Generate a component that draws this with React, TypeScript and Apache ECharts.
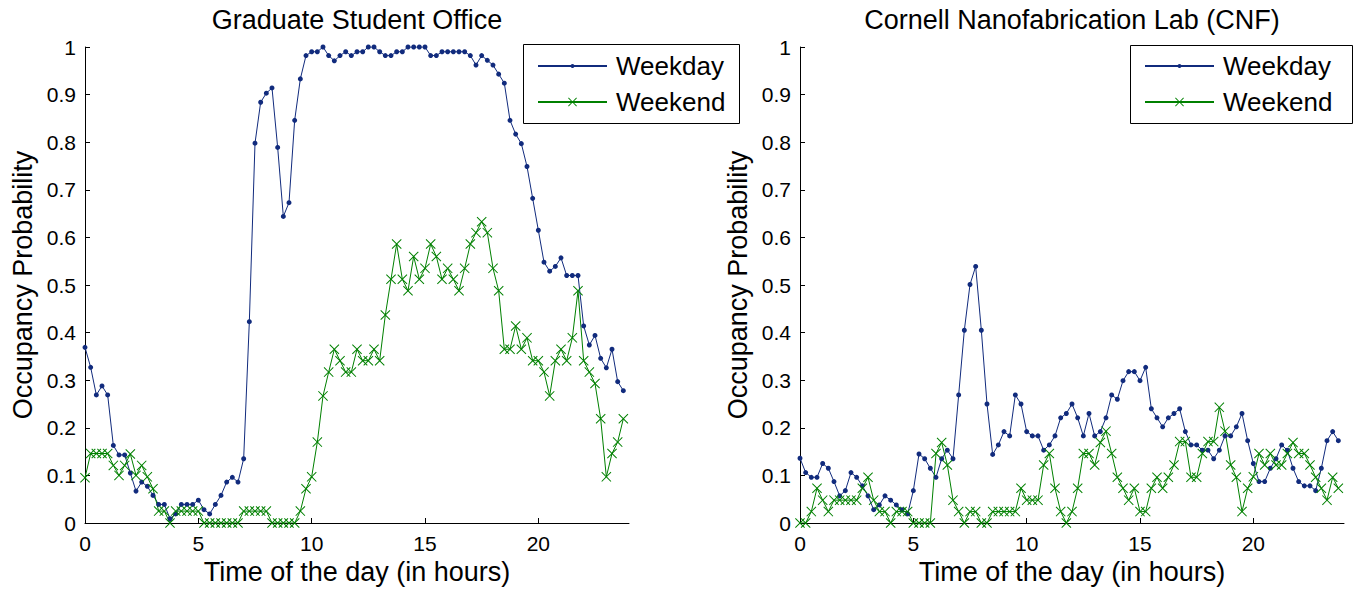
import React, { useEffect, useRef } from 'react';
import * as echarts from 'echarts';

// time of day sampled every 15 minutes (0 .. 23.75 h)
const hours: number[] = Array.from({ length: 96 }, (_, i) => i * 0.25);

const officeWeekday = [
  0.369, 0.327, 0.269, 0.288, 0.269, 0.163, 0.143, 0.143, 0.105, 0.067,
  0.086, 0.077, 0.058, 0.039, 0.039, 0.009, 0.019, 0.039, 0.039, 0.039,
  0.048, 0.028, 0.019, 0.039, 0.058, 0.086, 0.096, 0.086, 0.135, 0.423,
  0.798, 0.884, 0.903, 0.914, 0.789, 0.644, 0.673, 0.846, 0.933, 0.982,
  0.990, 0.990, 1.0, 0.982, 0.971, 0.982, 0.990, 0.982, 0.990, 0.990,
  1.0, 1.0, 0.990, 0.982, 0.982, 0.990, 0.990, 1.0, 1.0, 1.0,
  1.0, 0.982, 0.982, 0.990, 0.990, 0.990, 0.990, 0.990, 0.982, 0.962,
  0.982, 0.972, 0.962, 0.943, 0.924, 0.846, 0.817, 0.797, 0.749, 0.682,
  0.615, 0.548, 0.529, 0.539, 0.557, 0.520, 0.520, 0.520, 0.414, 0.374,
  0.394, 0.346, 0.326, 0.365, 0.297, 0.278,
];

const officeWeekend = [
  0.095, 0.146, 0.146, 0.146, 0.146, 0.121, 0.100, 0.121, 0.145, 0.100,
  0.121, 0.097, 0.072, 0.025, 0.025, 0.0, 0.025, 0.025, 0.025, 0.025,
  0.025, 0.0, 0.0, 0.0, 0.0, 0.0, 0.0, 0.0, 0.025, 0.025,
  0.025, 0.025, 0.025, 0.0, 0.0, 0.0, 0.0, 0.0, 0.025, 0.072,
  0.097, 0.170, 0.267, 0.317, 0.365, 0.341, 0.317, 0.317, 0.365, 0.341,
  0.341, 0.365, 0.341, 0.437, 0.512, 0.586, 0.512, 0.488, 0.560, 0.512,
  0.535, 0.586, 0.560, 0.512, 0.535, 0.512, 0.488, 0.535, 0.586, 0.610,
  0.633, 0.610, 0.535, 0.488, 0.365, 0.365, 0.414, 0.365, 0.389, 0.341,
  0.341, 0.317, 0.267, 0.341, 0.365, 0.341, 0.389, 0.488, 0.341, 0.317,
  0.293, 0.219, 0.097, 0.146, 0.170, 0.219,
];

const cnfWeekday = [
  0.136, 0.106, 0.096, 0.096, 0.125, 0.115, 0.087, 0.057, 0.068, 0.106,
  0.096, 0.078, 0.057, 0.028, 0.038, 0.057, 0.048, 0.038, 0.028, 0.019,
  0.068, 0.145, 0.135, 0.115, 0.096, 0.135, 0.153, 0.135, 0.269, 0.405,
  0.501, 0.539, 0.405, 0.250, 0.144, 0.164, 0.192, 0.183, 0.269, 0.250,
  0.192, 0.183, 0.183, 0.153, 0.164, 0.183, 0.221, 0.230, 0.250, 0.221,
  0.183, 0.230, 0.183, 0.192, 0.221, 0.269, 0.260, 0.299, 0.318, 0.318,
  0.299, 0.327, 0.240, 0.221, 0.202, 0.221, 0.230, 0.240, 0.192, 0.164,
  0.164, 0.153, 0.153, 0.135, 0.153, 0.183, 0.183, 0.202, 0.230, 0.173,
  0.125, 0.087, 0.087, 0.115, 0.135, 0.164, 0.153, 0.115, 0.087, 0.078,
  0.078, 0.068, 0.115, 0.173, 0.192, 0.173,
];

const cnfWeekend = [
  0.0, 0.0, 0.024, 0.073, 0.048, 0.024, 0.048, 0.048, 0.048, 0.048,
  0.048, 0.073, 0.096, 0.048, 0.024, 0.024, 0.0, 0.024, 0.024, 0.024,
  0.0, 0.0, 0.0, 0.0, 0.146, 0.169, 0.122, 0.048, 0.024, 0.0,
  0.024, 0.024, 0.0, 0.0, 0.024, 0.024, 0.024, 0.024, 0.024, 0.073,
  0.048, 0.048, 0.048, 0.122, 0.146, 0.073, 0.024, 0.0, 0.024, 0.073,
  0.146, 0.146, 0.122, 0.169, 0.193, 0.146, 0.096, 0.073, 0.048, 0.073,
  0.024, 0.024, 0.073, 0.096, 0.073, 0.096, 0.122, 0.171, 0.171, 0.096,
  0.096, 0.146, 0.171, 0.171, 0.243, 0.193, 0.122, 0.096, 0.024, 0.073,
  0.097, 0.146, 0.122, 0.146, 0.122, 0.122, 0.146, 0.169, 0.146, 0.146,
  0.122, 0.096, 0.073, 0.048, 0.096, 0.073,
];

const xTicks = [0, 5, 10, 15, 20];
const panelTitles = ['Graduate Student Office', 'Cornell Nanofabrication Lab (CNF)'];
const seriesNames = ['Weekday', 'Weekend'];
const xName = 'Time of the day (in hours)';
const yName = 'Occupancy Probability';

const BLUE = '#112b7d';
const GREEN = '#008000';
const FONT = "'Liberation Sans', Arial, Helvetica, sans-serif";
const X_SYMBOL =
  'path://M0,0.7L0.7,0L5,4.3L9.3,0L10,0.7L5.7,5L10,9.3L9.3,10L5,5.7L0.7,10L0,9.3L4.3,5Z';

function pairs(arr: number[]) {
  return hours.map((h, i) => [h, arr[i]]);
}

export default function App() {
  const ref = useRef<HTMLDivElement>(null);

  useEffect(() => {
    if (!ref.current) return;
    const chart = echarts.init(ref.current, undefined, { renderer: 'svg' });

    const grids = [
      { left: 85, top: 47, width: 544, height: 476 },
      { left: 800, top: 47, width: 544, height: 476 },
    ];

    const xAxis = [0, 1].map((i) => ({
      type: 'value',
      gridIndex: i,
      min: 0,
      max: 24,
      interval: 5,
      axisLine: { show: true, lineStyle: { color: '#000', width: 1 } },
      axisTick: { show: true, inside: true, length: 5, customValues: xTicks, lineStyle: { color: '#000' } },
      axisLabel: { customValues: xTicks, fontSize: 21, color: '#000', margin: 10, fontFamily: FONT },
      splitLine: { show: false },
      name: xName,
      nameLocation: 'middle',
      nameGap: 31,
      nameTextStyle: { fontSize: 27, color: '#000', fontFamily: FONT },
    }));

    const yAxis = [0, 1].map((i) => ({
      type: 'value',
      gridIndex: i,
      min: 0,
      max: 1,
      interval: 0.1,
      axisLine: { show: true, lineStyle: { color: '#000', width: 1 } },
      axisTick: { show: true, inside: true, length: 5, lineStyle: { color: '#000' } },
      axisLabel: { fontSize: 21, color: '#000', margin: 9, fontFamily: FONT },
      splitLine: { show: false },
      name: yName,
      nameLocation: 'middle',
      nameRotate: 90,
      nameGap: 49,
      nameTextStyle: { fontSize: 27, color: '#000', fontFamily: FONT },
    }));

    const panels = [
      [officeWeekday, officeWeekend],
      [cnfWeekday, cnfWeekend],
    ];

    const series: any[] = [];
    panels.forEach((p, i) => {
      series.push({
        type: 'line',
        name: seriesNames[0],
        xAxisIndex: i,
        yAxisIndex: i,
        data: pairs(p[0]),
        symbol: 'circle',
        symbolSize: 5,
        showSymbol: true,
        lineStyle: { color: BLUE, width: 1 },
        itemStyle: { color: BLUE },
      });
      series.push({
        type: 'line',
        name: seriesNames[1],
        xAxisIndex: i,
        yAxisIndex: i,
        data: pairs(p[1]),
        symbol: X_SYMBOL,
        symbolSize: 10,
        showSymbol: true,
        lineStyle: { color: GREEN, width: 1 },
        itemStyle: { color: GREEN },
      });
    });

    const legendText = { fontSize: 26, color: '#000', fontFamily: FONT, padding: [0, 0, 0, 4] };
    const legendCommon = {
      orient: 'vertical',
      itemWidth: 69,
      padding: 0,
      selectedMode: false,
      textStyle: legendText,
    };
    const legend = [
      { ...legendCommon, data: [seriesNames[0]], left: 537, top: 53, itemHeight: 5 },
      { ...legendCommon, data: [seriesNames[1]], left: 537, top: 89, itemHeight: 11 },
      { ...legendCommon, data: [seriesNames[0]], left: 1144, top: 53, itemHeight: 5 },
      { ...legendCommon, data: [seriesNames[1]], left: 1144, top: 89, itemHeight: 11 },
    ];

    const titleStyle = (text: string) => ({
      text,
      fontSize: 27,
      fontFamily: FONT,
      fill: '#000',
      align: 'center',
      verticalAlign: 'middle',
      textAlign: 'center',
      textVerticalAlign: 'middle',
    });

    const graphic = [
      { type: 'text', x: 357, y: 20, style: titleStyle(panelTitles[0]) },
      { type: 'text', x: 1072, y: 20, style: titleStyle(panelTitles[1]) },
      {
        type: 'rect',
        z: 1,
        shape: { x: 523.5, y: 44.5, width: 216, height: 79 },
        style: { fill: '#fff', stroke: '#000', lineWidth: 1 },
      },
      {
        type: 'rect',
        z: 1,
        shape: { x: 1130.5, y: 45.5, width: 222, height: 78 },
        style: { fill: '#fff', stroke: '#000', lineWidth: 1 },
      },
    ];

    chart.setOption({
      animation: false,
      backgroundColor: '#fff',
      grid: grids,
      xAxis,
      yAxis,
      series,
      legend,
      graphic,
    } as any);

    return () => chart.dispose();
  }, []);

  return (
    <div
      ref={ref}
      style={{ position: 'absolute', left: 0, top: 0, width: 1356, height: 593 }}
    />
  );
}
